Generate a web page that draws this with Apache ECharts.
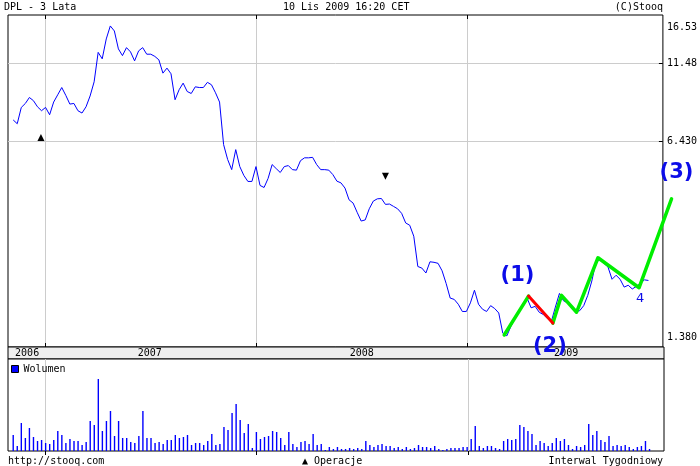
<!DOCTYPE html>
<html><head><meta charset="utf-8">
<script src="https://cdn.jsdelivr.net/npm/echarts@6/dist/echarts.min.js"></script>
<style>html,body{margin:0;padding:0;background:#fff}#c{width:700px;height:466px}</style>
</head><body><div id="c"></div>
<script>
// ---- data ----
const startDate = [2006, 11, 7];          // first weekly point (y, m, d)
const prices = [
  7.54, 7.33, 8.28, 8.53, 8.92, 8.71, 8.32, 8.08, 8.28, 7.84,
  8.62, 9.10, 9.61, 9.06, 8.49, 8.53, 8.08, 7.94, 8.32, 9.02,
  10.03, 12.50, 11.91, 13.82, 15.23, 14.67, 12.83, 12.20, 12.95, 12.54,
  11.73, 12.64, 12.95, 12.33, 12.33, 12.13, 11.82, 10.70, 11.11, 10.65,
  8.77, 9.45, 9.93, 9.33, 9.19, 9.66, 9.61, 9.61, 9.99, 9.81,
  9.24, 8.62, 6.27, 5.61, 5.20, 6.04, 5.32, 4.98, 4.76, 4.76,
  5.32, 4.62, 4.55, 4.87, 5.40, 5.24, 5.09, 5.32, 5.36, 5.20,
  5.18, 5.56, 5.68, 5.68, 5.70, 5.40, 5.20, 5.20, 5.18, 5.01,
  4.77, 4.71, 4.53, 4.15, 4.05, 3.78, 3.54, 3.57, 3.88, 4.11,
  4.18, 4.19, 4.01, 4.02, 3.95, 3.88, 3.75, 3.49, 3.43, 3.16,
  2.52, 2.49, 2.40, 2.61, 2.60, 2.58, 2.44, 2.22, 1.99, 1.97,
  1.90, 1.80, 1.80, 1.92, 2.11, 1.90, 1.83, 1.80, 1.88, 1.84,
  1.78, 1.53, 1.50, 1.61, 1.71, 1.79, 1.89, 1.99, 1.85, 1.87,
  1.79, 1.76, 1.71, 1.67, 1.86, 2.06, 1.95, 1.92, 1.85, 1.80,
  1.81, 1.88, 2.03, 2.26, 2.60, 2.65, 2.58, 2.51, 2.29, 2.36,
  2.29, 2.16, 2.19, 2.13, 2.17, 2.22, 2.28, 2.27
];
const volumes = [
  16, 5, 28, 13, 23, 14, 10, 11, 8, 7,
  11, 20, 16, 8, 12, 10, 10, 6, 9, 30,
  26, 72, 20, 30, 40, 15, 30, 13, 13, 9,
  8, 15, 40, 13, 13, 8, 9, 7, 11, 11,
  16, 13, 14, 16, 6, 8, 8, 6, 10, 17,
  6, 7, 24, 21, 38, 47, 31, 18, 27, 3,
  19, 12, 14, 15, 20, 19, 13, 6, 19, 7,
  4, 9, 10, 7, 17, 6, 7, 1, 4, 2,
  4, 2, 2, 3, 2, 3, 2, 10, 6, 4,
  6, 7, 5, 5, 3, 4, 2, 4, 2, 3,
  6, 4, 4, 3, 5, 2, 1, 2, 3, 3,
  3, 4, 4, 12, 25, 5, 3, 5, 5, 3,
  2, 10, 12, 11, 12, 26, 24, 20, 17, 6,
  10, 8, 5, 8, 13, 10, 12, 6, 2, 5,
  4, 6, 27, 16, 20, 11, 9, 15, 5, 6,
  5, 6, 4, 2, 4, 5, 10, 2
];
const axisStart = '2006-10-29';
const axisEnd = '2009-12-05';
const yearBoundaries = ['2007-01-01', '2008-01-01', '2009-01-01'];
const volumeGridBoundaries = ['2007-01-01', '2009-01-01'];
const yearLabelDates = ['2006-12-01', '2007-07-01', '2008-07-01', '2009-06-19'];
const yearLabels = ['2006', '2007', '2008', '2009'];
const priceTickValues = [1.38, 6.43, 11.48, 16.53];
const priceTickLabels = ['1.380', '6.430', '11.48', '16.53'];
const priceGridValues = [6.43, 11.48];
const waveDates = ['2009-03-04', '2009-04-15', '2009-05-27', '2009-06-11', '2009-07-07', '2009-08-13', '2009-10-23', '2009-12-18'];
const waveValues = [1.51, 2.02, 1.65, 2.03, 1.79, 2.69, 2.15, 4.18];
const waveLabels = ['', '(1)', '(2)', '', '', '', '4', '(3)'];
const buyDates = ['2006-12-25'];
const buyValues = [6.61];
const sellDates = ['2008-08-12'];
const sellValues = [4.95];

// ---- helpers ----
const ts = s => { const p = s.split('-').map(Number); return Date.UTC(p[0], p[1] - 1, p[2]); };
const DAY = 86400000;
const t0 = Date.UTC(startDate[0], startDate[1] - 1, startDate[2]);
const dates = prices.map((_, i) => t0 + i * 7 * DAY);
const MONO = 'DejaVu Sans Mono';
const BLUE_ANN = '#0c0ce8';

const labelOffsets = { '(1)': [-11, -21], '(2)': [-3, 23], '(3)': [5, -26], '4': [1, 11] };
const wavePts = waveDates.map((d, i) => [ts(d), waveValues[i]]);
const labelData = [];
const labelShift = [];
waveLabels.forEach((t, i) => {
  if (!t) return;
  labelShift.push(labelOffsets[t]);
  labelData.push({
    value: wavePts[i],
    label: {
      show: true, formatter: t, position: 'inside',
      color: BLUE_ANN, fontFamily: 'DejaVu Sans', textBorderWidth: 0, opacity: 1,
      fontWeight: t === '4' ? 'normal' : 'bold', fontSize: t === '4' ? 13 : 21
    }
  });
});
const green1 = wavePts.slice(0, 2);
const green2 = wavePts.slice(2);
const red = wavePts.slice(1, 3);

const PLOT_LEFT = 8, PLOT_WIDTH = 656, OVERLAY_WIDTH = 684;
const xMin = ts(axisStart), xMax = ts(axisEnd);
// overlay grid shares the same scale as the plot, just extends further right (annotation drawn past the frame)
const xMaxOverlay = xMin + (xMax - xMin) * OVERLAY_WIDTH / PLOT_WIDTH;
const tickTs = yearBoundaries.map(ts);
const volGridTs = volumeGridBoundaries.map(ts);
const labelTs = yearLabelDates.map(ts);
const txt = (text, pos) => Object.assign({ text, padding: 0, textStyle: { fontFamily: MONO, fontSize: 10, fontWeight: 'normal', color: '#000' } }, pos);
const xBase = { type: 'value', min: xMin, max: xMax, axisLine: { show: false }, axisLabel: { show: false } };
const yMin = priceTickValues[0], yMax = priceTickValues[priceTickValues.length - 1];

const chart = echarts.init(document.getElementById('c'), null, { renderer: 'canvas' });
chart.setOption({
  animation: false,
  backgroundColor: '#fff',
  title: [
    txt('DPL - 3 Lata', { left: 4, top: 2 }),
    txt('10 Lis 2009 16:20 CET', { left: 283, top: 2 }),
    txt('(C)Stooq', { right: 37, top: 2 }),
    txt('http://stooq.com', { left: 8, top: 456 }),
    txt('▲ Operacje', { left: 302, top: 456 }),
    txt('Interwal Tygodniowy', { right: 37, top: 456 })
  ],
  legend: {
    data: ['Wolumen'], left: 11, top: 364, padding: 0, itemGap: 4,
    itemWidth: 7, itemHeight: 7, icon: 'rect',
    itemStyle: { borderColor: '#000', borderWidth: 1 },
    textStyle: { fontFamily: MONO, fontSize: 10, color: '#000' },
    selectedMode: false
  },
  grid: [
    { left: PLOT_LEFT, width: PLOT_WIDTH, top: 15, height: 332, show: true, borderColor: '#000', borderWidth: 1, backgroundColor: '#fff' },
    { left: PLOT_LEFT, width: PLOT_WIDTH, top: 347, height: 12, show: true, borderColor: '#000', borderWidth: 1, backgroundColor: '#eeeeee' },
    { left: PLOT_LEFT, width: PLOT_WIDTH, top: 359, height: 92, show: true, borderColor: '#000', borderWidth: 1, backgroundColor: '#fff' },
    { left: PLOT_LEFT, width: OVERLAY_WIDTH, top: 15, height: 332, show: false }
  ],
  xAxis: [
    Object.assign({}, xBase, { gridIndex: 0, position: 'bottom',
      axisTick: { show: true, inside: true, length: 4, customValues: tickTs, lineStyle: { color: '#000' } },
      splitLine: { show: true, lineStyle: { color: '#cccccc', width: 1 } } }),
    Object.assign({}, xBase, { gridIndex: 0, position: 'top',
      axisTick: { show: true, inside: true, length: 4, customValues: tickTs, lineStyle: { color: '#000' } },
      splitLine: { show: false } }),
    Object.assign({}, xBase, { gridIndex: 1, position: 'top', axisTick: { show: false },
      axisLabel: { show: true, inside: true, margin: 1, customValues: labelTs,
        formatter: v => { const i = labelTs.indexOf(v); return i >= 0 ? yearLabels[i] : ''; },
        fontFamily: MONO, fontSize: 10, color: '#000' },
      splitLine: { show: false } }),
    Object.assign({}, xBase, { gridIndex: 2, position: 'top',
      axisTick: { show: true, inside: true, length: 4, customValues: tickTs, lineStyle: { color: '#000' } },
      splitLine: { show: false } }),
    { gridIndex: 3, type: 'value', min: xMin, max: xMaxOverlay, show: false },
    Object.assign({}, xBase, { gridIndex: 2, position: 'bottom',
      axisTick: { show: false, customValues: volGridTs },
      splitLine: { show: true, lineStyle: { color: '#cccccc', width: 1 } } })
  ],
  yAxis: [
    { gridIndex: 0, type: 'log', logBase: 10, min: yMin, max: yMax,
      position: 'right',
      axisLine: { show: false },
      axisTick: { show: true, inside: true, length: 4, customValues: priceGridValues, lineStyle: { color: '#000' } },
      axisLabel: { show: true, margin: 4, customValues: priceTickValues,
        fontFamily: MONO, fontSize: 10, color: '#000',
        formatter: v => {
          let bi = 0, bd = Infinity;
          priceTickValues.forEach((p, i) => { const d = Math.abs(p - v); if (d < bd) { bd = d; bi = i; } });
          const t = priceTickLabels[bi];
          if (bi === priceTickValues.length - 1) return '{top|' + t + '}';
          if (bi === 0) return '{bot|' + t + '}';
          return t;
        },
        rich: {
          top: { padding: [24, 0, 0, 0], fontFamily: MONO, fontSize: 10, color: '#000' },
          bot: { padding: [0, 0, 20, 0], fontFamily: MONO, fontSize: 10, color: '#000' }
        } },
      splitLine: { show: true, lineStyle: { color: '#cccccc', width: 1 } } },
    { gridIndex: 1, type: 'value', show: false, min: 0, max: 1 },
    { gridIndex: 2, type: 'value', show: false, min: 0, max: 92, splitLine: { show: false } },
    { gridIndex: 3, type: 'log', logBase: 10, min: yMin, max: yMax, show: false }
  ],
  series: [
    { name: 'DPL', type: 'line', xAxisIndex: 0, yAxisIndex: 0, showSymbol: false,
      data: dates.map((d, i) => [d, prices[i]]),
      lineStyle: { color: '#0000ff', width: 1 }, itemStyle: { color: '#0000ff' }, z: 3 },
    { name: 'Wolumen', type: 'bar', xAxisIndex: 3, yAxisIndex: 2, barWidth: 1.4,
      data: dates.map((d, i) => [d, volumes[i]]),
      itemStyle: { color: '#0000ff' } },
    { name: 'buy', type: 'scatter', xAxisIndex: 0, yAxisIndex: 0, symbol: 'triangle', symbolSize: [7, 7],
      data: buyDates.map((d, i) => [ts(d), buyValues[i]]), itemStyle: { color: '#000', opacity: 1 }, z: 4 },
    { name: 'sell', type: 'scatter', xAxisIndex: 0, yAxisIndex: 0, symbol: 'triangle', symbolRotate: 180, symbolSize: [7, 7],
      data: sellDates.map((d, i) => [ts(d), sellValues[i]]), itemStyle: { color: '#000', opacity: 1 }, z: 4 },
    { name: 'waveGreen1', type: 'line', xAxisIndex: 4, yAxisIndex: 3, symbol: 'none',
      data: green1, lineStyle: { color: '#00ee00', width: 3.5, cap: 'round', join: 'round' }, itemStyle: { color: '#00ee00' }, z: 5 },
    { name: 'waveGreen2', type: 'line', xAxisIndex: 4, yAxisIndex: 3, symbol: 'none',
      data: green2, lineStyle: { color: '#00ee00', width: 3.5, cap: 'round', join: 'round' }, itemStyle: { color: '#00ee00' }, z: 5 },
    { name: 'waveRed', type: 'line', xAxisIndex: 4, yAxisIndex: 3, symbol: 'none',
      data: red, lineStyle: { color: '#ff0000', width: 3, cap: 'round' }, itemStyle: { color: '#ff0000' }, z: 5 },
    { name: 'waveLabels', type: 'scatter', xAxisIndex: 4, yAxisIndex: 3, clip: false,
      symbol: 'circle', symbolSize: 1, itemStyle: { color: 'rgba(0,0,0,0)', opacity: 1 },
      data: labelData, z: 6,
      labelLayout: p => ({ dx: labelShift[p.dataIndex][0], dy: labelShift[p.dataIndex][1], hideOverlap: false }) }
  ]
});
</script></body></html>
